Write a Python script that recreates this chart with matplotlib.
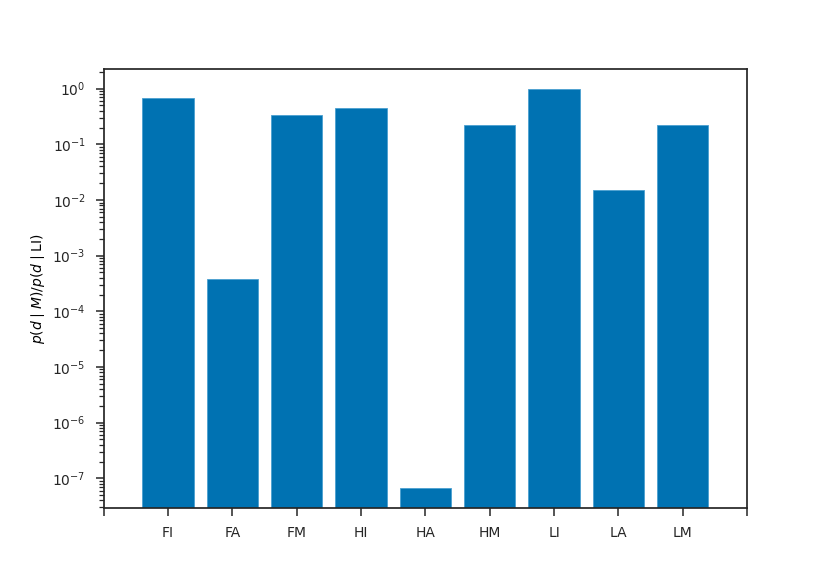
import numpy as np
import matplotlib
matplotlib.use("Agg")
from matplotlib import pyplot as plt

models = ["FI", "FA", "FM", "HI", "HA", "HM", "LI", "LA", "LM"]
ratios = [0.69, 3.8e-4, 0.34, 0.44, 6.8e-8, 0.22, 1.0, 0.0148, 0.22]

fig, ax = plt.subplots(figsize=(8.3, 5.71), dpi=100)
x = np.arange(len(models))
ax.bar(x, ratios, width=0.8, color="#0072B2", edgecolor="#4a9fd0", linewidth=0.6)
ax.set_yscale("log")
ax.set_ylim(2.9e-8, 2.3)
ax.set_xlim(-1, len(models))
ax.set_xticks(x)
ax.set_xticklabels(models)
# unlabeled ticks at both ends of the x axis
ax.set_xticks([-1, len(models)], minor=True)
ax.set_ylabel(r"$p(d\mid M)/p(d\mid \mathrm{LI})$", fontsize=10, labelpad=4)
for s in ax.spines.values():
    s.set_color("#262626")
    s.set_linewidth(1.25)
ax.tick_params(which="major", length=6, width=1.1, pad=7, labelsize=10,
               colors="#262626", labelcolor="#262626")
ax.tick_params(axis="y", which="minor", length=3.5, width=0.9, colors="#262626")
ax.tick_params(axis="x", which="minor", length=6, width=1.1, colors="#262626")
fig.savefig("out.png", dpi=100)
